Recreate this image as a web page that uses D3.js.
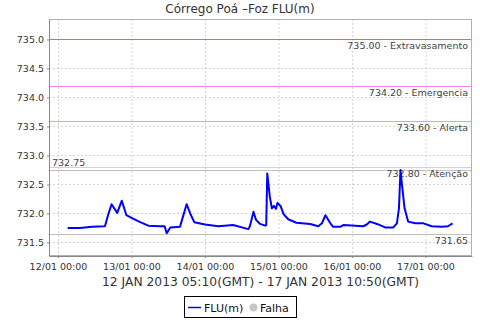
<!DOCTYPE html>
<html><head><meta charset="utf-8">
<script src="https://cdn.jsdelivr.net/npm/d3@7"></script>
<style>body{margin:0;background:#fff}svg{display:block}text{font-family:"DejaVu Sans",sans-serif}</style>
</head><body><svg id="c" width="480" height="320"></svg>
<script>
const times = ["12/01 03:10","12/01 07:10","12/01 11:10","12/01 15:20","12/01 16:20","12/01 17:30","12/01 19:20","12/01 20:50","12/01 22:20",
"13/01 00:10","13/01 02:50","13/01 05:30","13/01 09:20","13/01 10:50","13/01 11:30","13/01 12:40","13/01 15:50","13/01 16:20","13/01 18:00","13/01 19:10","13/01 20:30",
"14/01 00:00","14/01 04:20","14/01 09:10","14/01 14:10","14/01 14:40","14/01 15:50","14/01 16:40","14/01 18:00","14/01 19:40","14/01 20:00","14/01 20:20","14/01 21:10","14/01 21:50","14/01 22:30","14/01 23:10","14/01 23:40",
"15/01 00:40","15/01 01:40","15/01 03:10","15/01 05:50","15/01 10:20","15/01 13:00","15/01 14:10","15/01 15:20","15/01 16:50","15/01 17:50","15/01 20:10","15/01 21:10",
"16/01 03:40","16/01 04:50","16/01 05:50","16/01 08:10","16/01 10:50","16/01 13:30","16/01 14:40","16/01 15:20","16/01 15:50","16/01 16:20","16/01 17:10","16/01 18:20","16/01 20:40","16/01 23:20",
"17/01 02:00","17/01 05:20","17/01 07:20","17/01 08:50"];
const flu = [731.75,731.75,731.77,731.78,731.97,732.16,732.01,732.22,731.97,
731.92,731.85,731.79,731.78,731.78,731.66,731.76,731.77,731.86,732.16,732.00,731.85,
731.81,731.78,731.80,731.73,731.78,732.03,731.89,731.82,731.79,731.80,732.69,732.29,732.09,732.13,732.08,732.18,
732.13,731.99,731.90,731.84,731.82,731.78,731.83,731.97,731.84,731.77,731.77,731.80,
731.78,731.81,731.86,731.82,731.76,731.76,731.83,732.09,732.75,732.49,732.09,731.86,731.83,731.83,
731.78,731.77,731.78,731.83];
const yTicks = [731.5,732.0,732.5,733.0,733.5,734.0,734.5,735.0];
const xTickLabels = ["12/01 00:00","13/01 00:00","14/01 00:00","15/01 00:00","16/01 00:00","17/01 00:00"];
const refValues = [735.00,734.20,733.60,732.80,732.75,731.65];
const refLabels = ["735.00 - Extravasamento","734.20 - Emergencia","733.60 - Alerta","732.80 - Atenção","732.75","731.65"];
const refColors = ["#e06868","#ee82ee","#ffb040","#f2dc40","#c0c0c0","#c0c0c0"];
const title = "Córrego Poá –Foz FLU(m)";
const subtitle = "12 JAN 2013 05:10(GMT) - 17 JAN 2013 10:50(GMT)";
const legendItems = ["FLU(m)","Falha"];

const parse = d3.timeParse("%d/%m/%Y %H:%M");
const P = s => parse(s.replace(" ", "/2013 "));
const data = times.map((t,i)=>({t:P(t), v:flu[i]}));

const svg = d3.select("#c");
const L=49, R=472, T=19, B=256;
const x = d3.scaleTime().domain([P("11/01 21:04"), P("17/01 15:11")]).range([L,R]);
const y = d3.scaleLinear().domain([731.267, 735.353]).range([B,T]);

// grid
const g = svg.append("g");
g.selectAll("line.gx").data(xTickLabels).join("line").attr("class","gx")
 .attr("x1",d=>x(P(d))+0.5).attr("x2",d=>x(P(d))+0.5).attr("y1",T).attr("y2",B)
 .attr("stroke","#d4d4d4").attr("stroke-dasharray","2,2");
g.selectAll("line.gy").data(yTicks).join("line").attr("class","gy")
 .attr("y1",d=>Math.round(y(d))+0.5).attr("y2",d=>Math.round(y(d))+0.5).attr("x1",L).attr("x2",R)
 .attr("stroke","#d4d4d4").attr("stroke-dasharray","2,2");

// reference lines
svg.append("g").selectAll("line").data(refValues).join("line")
  .attr("x1",L).attr("x2",R)
  .attr("y1",d=>Math.round(y(d))+0.5).attr("y2",d=>Math.round(y(d))+0.5)
  .style("stroke",(d,i)=>refColors[i]).style("stroke-width",1);
refValues.forEach((v,i)=>{
  const yy = y(v);
  if (i===4) {
    svg.append("text").attr("x",52).attr("y",yy-4).attr("font-size",9.5).attr("fill","#444").text(refLabels[i]);
  } else {
    svg.append("text").attr("x",468).attr("y",yy+10).attr("text-anchor","end").attr("font-size",9.5).attr("fill","#444").text(refLabels[i]);
  }
});

// line
svg.append("path").datum(data)
 .attr("d", d3.line().x(d=>x(d.t)).y(d=>y(d.v)))
 .attr("fill","none").attr("stroke","#0000ff").attr("stroke-width",2).attr("stroke-linejoin","round");

// frame
svg.append("rect").attr("x",L+0.5).attr("y",T+0.5).attr("width",R-L-1).attr("height",B-T-1)
 .attr("fill","none").attr("stroke","#b0b0b0");

// axes
const ax = svg.append("g").attr("transform",`translate(0,${B})`)
 .call(d3.axisBottom(x).tickValues(xTickLabels.map(P)).tickFormat(d3.timeFormat("%d/%m %H:%M")).tickSize(2).tickSizeOuter(0));
ax.select(".domain").attr("stroke","#888");
ax.selectAll(".tick line").attr("stroke","#888");
ax.selectAll("text").attr("font-size",9.5).attr("fill","#333").attr("dy","0.9em").style("font-family","DejaVu Sans");
const ay = svg.append("g").attr("transform",`translate(${L},0)`)
 .call(d3.axisLeft(y).tickValues(yTicks).tickFormat(d3.format(".1f")).tickSize(2).tickSizeOuter(0));
ay.select(".domain").attr("stroke","#888");
ay.selectAll(".tick line").attr("stroke","#888");
ay.selectAll("text").attr("font-size",9.5).attr("fill","#333").style("font-family","DejaVu Sans");

// titles
svg.append("text").attr("x",240).attr("y",13).attr("text-anchor","middle").attr("font-size",12).attr("fill","#333").text(title);
svg.append("text").attr("x",260.5).attr("y",286).attr("text-anchor","middle").attr("font-size",12.3).attr("fill","#333").text(subtitle);

// legend
const lg = svg.append("g");
lg.append("rect").attr("x",184.5).attr("y",296.5).attr("width",112).attr("height",21).attr("fill","#fff").attr("stroke","#000");
lg.append("line").attr("x1",188).attr("x2",201).attr("y1",307.5).attr("y2",307.5).attr("stroke","#0000ff").attr("stroke-width",1.5);
lg.append("text").attr("x",204).attr("y",311.5).attr("font-size",11).attr("fill","#111").text(legendItems[0]);
lg.append("circle").attr("cx",253.5).attr("cy",307.5).attr("r",4).attr("fill","#c8c8c8");
lg.append("text").attr("x",260).attr("y",311.5).attr("font-size",11).attr("fill","#111").text(legendItems[1]);
</script></body></html>
